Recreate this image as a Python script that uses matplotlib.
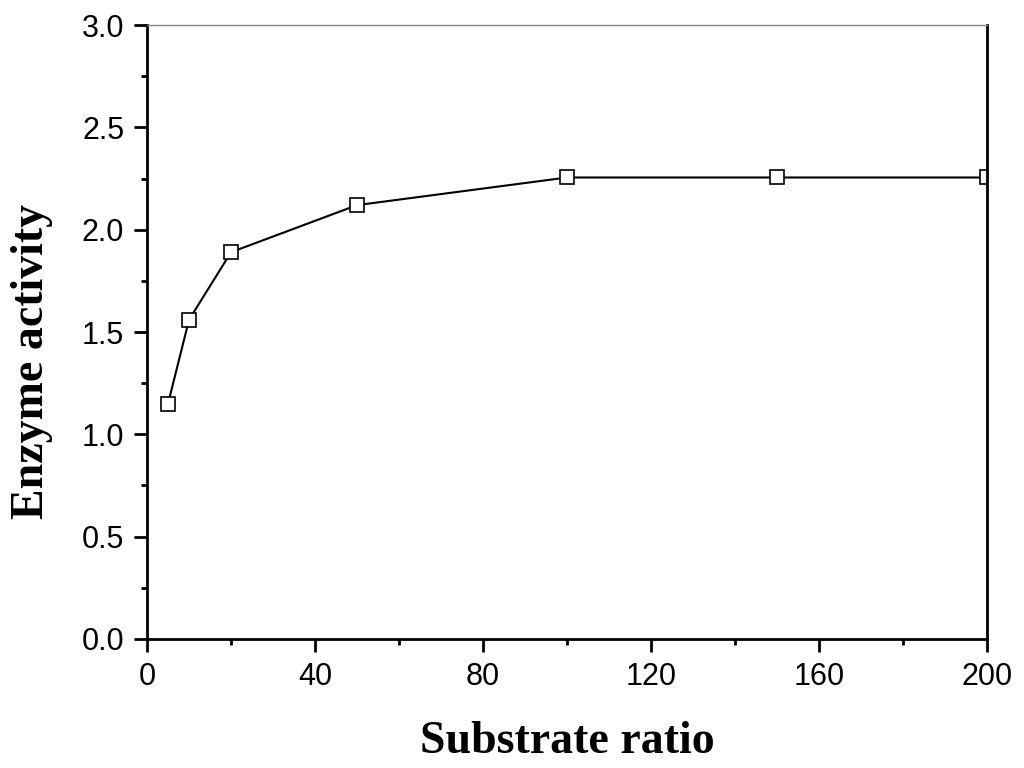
import matplotlib
matplotlib.use('Agg')
import matplotlib.pyplot as plt
from matplotlib.ticker import MultipleLocator

ratio = [5, 10, 20, 50, 100, 150, 200]
activity = [1.15, 1.56, 1.89, 2.12, 2.255, 2.255, 2.255]

fig = plt.figure(figsize=(10.24, 7.68), dpi=100)
ax = fig.add_axes([0.1436, 0.168, 0.8203, 0.7994])

ax.plot(ratio, activity, color='black', linewidth=1.5, marker='s', markersize=9.5,
        markerfacecolor='white', markeredgecolor='black', markeredgewidth=1.2)

ax.set_xlim(0, 200)
ax.set_ylim(0, 3.0)
ax.xaxis.set_major_locator(MultipleLocator(40))
ax.xaxis.set_minor_locator(MultipleLocator(20))
ax.yaxis.set_major_locator(MultipleLocator(0.5))
ax.yaxis.set_minor_locator(MultipleLocator(0.25))
ax.yaxis.set_major_formatter(plt.FuncFormatter(lambda v, p: '%.1f' % v))

for s in ['left', 'bottom', 'right']:
    ax.spines[s].set_linewidth(2)
    ax.spines[s].set_color('black')
ax.spines['top'].set_linewidth(1)
ax.spines['top'].set_color('#888888')

ax.tick_params(which='major', direction='out', length=9.5, width=2, labelsize=22, pad=7)
ax.tick_params(which='minor', direction='out', length=4.5, width=2)
for lab in ax.get_xticklabels() + ax.get_yticklabels():
    lab.set_family('Liberation Sans')

ax.set_xlabel('Substrate ratio', family='Liberation Serif', fontweight='bold', fontsize=33)
ax.set_ylabel('Enzyme activity', family='Liberation Serif', fontweight='bold', fontsize=33)
ax.xaxis.set_label_coords(0.5, -0.1335)
ax.yaxis.set_label_coords(-0.112, 0.452)

fig.savefig('out.png', dpi=100)
